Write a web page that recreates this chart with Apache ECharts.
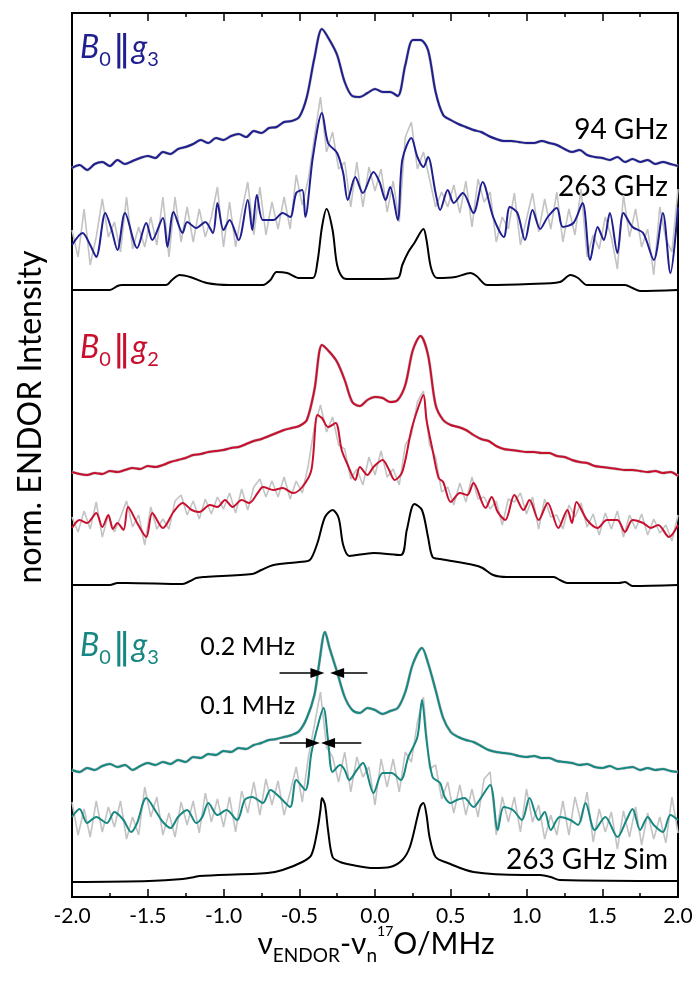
<!DOCTYPE html>
<html>
<head>
<meta charset="utf-8">
<title>17O ENDOR</title>
<script src="https://cdn.jsdelivr.net/npm/echarts@6/dist/echarts.min.js"></script>
<style>
  html, body { margin: 0; padding: 0; background: #fff; }
  #chart { width: 697px; height: 987px; }
</style>
</head>
<body>
<div id="chart"></div>
<script>
// x in MHz, y = stacked normalised intensity (arbitrary units, 0..884)

// 94 GHz traces, sampled every 0.05 MHz from -2.0
const blue94 = [
  729, 732, 727, 733, 735, 731, 737, 733, 736, 739,
  741, 739, 745, 743, 748, 750, 753, 757, 754, 759,
  757, 761, 763, 760, 766, 764, 769, 770, 775, 776,
  780, 800, 839, 868, 857, 842, 815, 801, 800, 804,
  808, 805, 805, 801, 832, 857, 857, 847, 805, 782,
  777, 773, 770, 767, 765, 761, 758, 756, 756, 755,
  754, 754, 756, 754, 752, 748, 745, 747, 742, 740,
  739, 737, 740, 735, 738, 735, 737, 733, 735, 733,
  731
];
const red94 = [
  425, 423, 422, 424, 423, 426, 425, 427, 429, 428,
  431, 430, 432, 435, 437, 439, 442, 443, 445, 446,
  447, 449, 450, 453, 456, 458, 461, 464, 467, 469,
  471, 477, 507, 552, 545, 535, 517, 495, 491, 497,
  500, 499, 495, 497, 512, 547, 561, 542, 492, 477,
  472, 470, 467, 462, 458, 456, 451, 448, 447, 446,
  445, 445, 444, 444, 441, 440, 437, 435, 434, 431,
  430, 429, 428, 427, 427, 426, 425, 426, 424, 425,
  421
];
const teal94 = [
  [-2.00, 127], [-1.95, 125], [-1.90, 129], [-1.85, 127], [-1.80, 131], [-1.75, 133], [-1.70, 130],
  [-1.65, 132], [-1.60, 127], [-1.55, 131], [-1.50, 134], [-1.45, 132], [-1.40, 135], [-1.35, 133],
  [-1.30, 137], [-1.25, 135], [-1.20, 140], [-1.15, 139], [-1.10, 143], [-1.05, 142], [-1.00, 146],
  [-0.95, 145], [-0.90, 149], [-0.85, 148], [-0.80, 152], [-0.75, 154], [-0.70, 157], [-0.65, 158],
  [-0.60, 160], [-0.55, 162], [-0.50, 166], [-0.45, 179], [-0.40, 202], [-0.37, 232], [-0.33, 265],
  [-0.30, 249], [-0.25, 225], [-0.20, 200], [-0.15, 187], [-0.10, 184], [-0.05, 189], [0.00, 187],
  [0.05, 183], [0.10, 186], [0.15, 189], [0.20, 205], [0.25, 233], [0.31, 249], [0.35, 234],
  [0.40, 207], [0.45, 179], [0.50, 165], [0.55, 160], [0.60, 157], [0.65, 155], [0.70, 151],
  [0.75, 147], [0.80, 145], [0.85, 144], [0.90, 143], [0.95, 141], [1.00, 140], [1.05, 141],
  [1.10, 139], [1.15, 139], [1.20, 136], [1.25, 135], [1.30, 134], [1.35, 132], [1.40, 133],
  [1.45, 130], [1.50, 129], [1.55, 131], [1.60, 128], [1.65, 129], [1.70, 130], [1.75, 127],
  [1.80, 129], [1.85, 127], [1.90, 128], [1.95, 126], [2.00, 125]
];

// 263 GHz smoothed traces
const blue263 = [
  [-2.00, 652], [-1.93, 664], [-1.88, 652], [-1.84, 640], [-1.78, 684], [-1.74, 668], [-1.70, 647],
  [-1.65, 684], [-1.57, 649], [-1.51, 674], [-1.47, 657], [-1.40, 679], [-1.37, 650], [-1.33, 685],
  [-1.27, 664], [-1.24, 675], [-1.18, 669], [-1.12, 675], [-1.07, 664], [-1.04, 694], [-1.00, 667],
  [-0.96, 677], [-0.90, 657], [-0.84, 697], [-0.81, 667], [-0.78, 702], [-0.74, 677], [-0.67, 677],
  [-0.61, 684], [-0.56, 680], [-0.52, 704], [-0.48, 707], [-0.46, 680], [-0.41, 740], [-0.35, 784],
  [-0.31, 754], [-0.25, 744], [-0.21, 724], [-0.18, 697], [-0.13, 720], [-0.08, 704], [-0.01, 725],
  [0.03, 715], [0.07, 697], [0.10, 710], [0.15, 677], [0.18, 737], [0.24, 759], [0.28, 740],
  [0.32, 730], [0.35, 740], [0.40, 704], [0.43, 687], [0.48, 707], [0.52, 694], [0.58, 704],
  [0.65, 684], [0.71, 715], [0.78, 680], [0.85, 660], [0.89, 690], [0.94, 684], [0.99, 657],
  [1.04, 687], [1.09, 668], [1.14, 680], [1.20, 689], [1.24, 670], [1.31, 674], [1.37, 694],
  [1.42, 637], [1.47, 670], [1.51, 657], [1.55, 684], [1.60, 644], [1.64, 684], [1.70, 670],
  [1.77, 664], [1.84, 637], [1.90, 684], [1.95, 624], [2.00, 690]
];
const red263 = [
  [-2.00, 369], [-1.95, 377], [-1.90, 374], [-1.84, 384], [-1.80, 370], [-1.76, 382], [-1.73, 368],
  [-1.70, 374], [-1.66, 367], [-1.63, 390], [-1.57, 374], [-1.51, 360], [-1.47, 384], [-1.40, 369],
  [-1.33, 385], [-1.27, 394], [-1.21, 387], [-1.16, 385], [-1.09, 392], [-1.04, 390], [-0.99, 397],
  [-0.94, 390], [-0.88, 397], [-0.83, 394], [-0.77, 405], [-0.74, 410], [-0.67, 407], [-0.61, 409],
  [-0.54, 404], [-0.48, 410], [-0.42, 427], [-0.38, 482], [-0.35, 479], [-0.31, 470], [-0.26, 474],
  [-0.22, 447], [-0.18, 432], [-0.13, 417], [-0.10, 430], [-0.05, 422], [-0.01, 430], [0.05, 437],
  [0.09, 428], [0.13, 417], [0.18, 425], [0.24, 467], [0.28, 487], [0.32, 502], [0.34, 477],
  [0.38, 447], [0.42, 419], [0.45, 415], [0.50, 395], [0.56, 404], [0.61, 402], [0.65, 414],
  [0.73, 389], [0.77, 400], [0.81, 385], [0.86, 377], [0.92, 402], [0.98, 387], [1.02, 397],
  [1.08, 377], [1.14, 394], [1.21, 369], [1.27, 387], [1.30, 374], [1.33, 395], [1.40, 377],
  [1.47, 369], [1.53, 377], [1.60, 377], [1.65, 365], [1.70, 377], [1.77, 374], [1.82, 369],
  [1.87, 372], [1.94, 360], [2.00, 372]
];
const teal263 = [
  [-2.00, 80], [-1.95, 88], [-1.90, 74], [-1.84, 80], [-1.77, 74], [-1.72, 85], [-1.66, 77],
  [-1.61, 65], [-1.57, 74], [-1.51, 99], [-1.44, 84], [-1.40, 75], [-1.35, 69], [-1.30, 80],
  [-1.24, 87], [-1.18, 74], [-1.14, 80], [-1.10, 94], [-1.04, 82], [-0.98, 87], [-0.91, 77],
  [-0.86, 97], [-0.81, 100], [-0.74, 94], [-0.69, 107], [-0.63, 100], [-0.56, 90], [-0.52, 117],
  [-0.46, 107], [-0.42, 144], [-0.38, 170], [-0.34, 189], [-0.31, 157], [-0.28, 125], [-0.23, 132],
  [-0.20, 127], [-0.17, 117], [-0.12, 127], [-0.08, 134], [-0.01, 104], [0.05, 124], [0.11, 124],
  [0.17, 117], [0.22, 140], [0.28, 160], [0.31, 197], [0.34, 157], [0.38, 120], [0.43, 114],
  [0.46, 100], [0.50, 94], [0.54, 97], [0.59, 99], [0.65, 90], [0.69, 97], [0.76, 112],
  [0.81, 67], [0.85, 90], [0.91, 87], [0.97, 77], [1.02, 99], [1.08, 77], [1.12, 85],
  [1.16, 67], [1.22, 80], [1.29, 77], [1.34, 72], [1.39, 94], [1.45, 67], [1.52, 80],
  [1.60, 60], [1.66, 77], [1.70, 88], [1.75, 67], [1.80, 80], [1.84, 72], [1.90, 65],
  [1.95, 82], [2.00, 77]
];

// 263 GHz raw (grey), sampled every 0.04 MHz from -2.0
const blueRaw = [
  667, 640, 688, 632, 660, 698, 660, 675, 645, 700,
  648, 670, 650, 680, 652, 700, 640, 700, 655, 690,
  655, 688, 660, 680, 710, 650, 695, 650, 685, 715,
  662, 710, 662, 695, 668, 700, 668, 722, 692, 718,
  760, 800, 745, 765, 728, 735, 690, 735, 690, 730,
  706, 728, 685, 716, 675, 760, 775, 728, 745, 718,
  690, 705, 690, 712, 684, 716, 670, 718, 695, 705,
  655, 680, 668, 704, 652, 678, 704, 665, 698, 668,
  705, 655, 688, 662, 708, 640, 662, 648, 680, 660,
  628, 702, 660, 688, 650, 668, 622, 690, 658, 645,
  708
];
const redRaw = [
  380, 365, 386, 368, 395, 360, 382, 365, 380, 396,
  370, 382, 352, 390, 368, 378, 368, 396, 402, 382,
  396, 378, 398, 383, 400, 388, 404, 384, 408, 387,
  410, 418, 400, 416, 400, 420, 398, 416, 404, 432,
  470, 492, 465, 480, 452, 448, 418, 428, 412, 440,
  422, 446, 420, 428, 412, 452, 462, 495, 506, 452,
  440, 405, 410, 392, 414, 395, 420, 398, 400, 388,
  396, 372, 398, 395, 404, 383, 400, 368, 398, 380,
  382, 368, 392, 380, 394, 370, 383, 362, 384, 368,
  386, 360, 382, 368, 383, 362, 378, 364, 372, 356,
  382
];
const tealRaw = [
  95, 62, 88, 60, 96, 65, 90, 70, 96, 58,
  80, 62, 110, 80, 100, 62, 84, 60, 95, 72,
  96, 64, 104, 75, 98, 70, 100, 65, 106, 84,
  115, 82, 118, 92, 116, 82, 105, 130, 95, 140,
  172, 205, 150, 140, 115, 145, 105, 140, 120, 130,
  92, 138, 110, 138, 105, 145, 135, 175, 200, 128,
  132, 98, 115, 84, 112, 82, 108, 80, 118, 125,
  62, 100, 75, 100, 65, 108, 75, 92, 58, 82,
  62, 96, 62, 100, 75, 105, 55, 88, 65, 85,
  48, 86, 60, 90, 52, 84, 58, 80, 54, 100,
  64
];

// 263 GHz simulations
const sim1 = [
  [-2.00, 607], [-1.75, 607], [-1.70, 611], [-1.67, 612], [-1.38, 612], [-1.34, 617], [-1.29, 622],
  [-1.22, 620], [-1.11, 614], [-0.96, 612], [-0.74, 612], [-0.69, 617], [-0.65, 625], [-0.58, 624],
  [-0.50, 619], [-0.41, 619], [-0.38, 635], [-0.35, 670], [-0.32, 688], [-0.28, 667], [-0.25, 632],
  [-0.21, 619], [-0.17, 618], [0.00, 618], [0.15, 619], [0.18, 632], [0.22, 645], [0.26, 654],
  [0.32, 668], [0.34, 657], [0.37, 629], [0.41, 619], [0.53, 620], [0.63, 624], [0.67, 621],
  [0.74, 612], [1.02, 613], [1.22, 615], [1.29, 622], [1.34, 619], [1.40, 612], [1.65, 612],
  [1.70, 609], [1.75, 606], [2.00, 607]
];
const sim2 = [
  [-2.00, 312], [-1.75, 312], [-1.70, 314], [-1.64, 314], [-1.27, 313], [-1.22, 316], [-1.18, 319],
  [-1.12, 320], [-0.81, 323], [-0.75, 327], [-0.67, 332], [-0.50, 335], [-0.43, 337], [-0.38, 354],
  [-0.33, 380], [-0.28, 387], [-0.24, 379], [-0.21, 352], [-0.17, 341], [-0.01, 344], [0.17, 342],
  [0.21, 367], [0.26, 393], [0.31, 387], [0.35, 360], [0.38, 340], [0.43, 338], [0.65, 332],
  [0.71, 329], [0.78, 322], [0.87, 320], [1.12, 320], [1.18, 320], [1.22, 317], [1.27, 314],
  [1.61, 314], [1.65, 315], [1.70, 311], [2.00, 312]
];
const sim3 = [
  [-2.00, 15], [-1.49, 16], [-1.27, 18], [-1.19, 20], [-1.16, 21], [-0.71, 24], [-0.61, 27],
  [-0.48, 35], [-0.42, 42], [-0.38, 67], [-0.36, 87], [-0.35, 99], [-0.33, 92], [-0.31, 67],
  [-0.28, 40], [-0.23, 35], [-0.15, 32], [-0.01, 29], [0.10, 30], [0.18, 37], [0.23, 50],
  [0.28, 80], [0.30, 91], [0.32, 94], [0.34, 82], [0.36, 60], [0.40, 40], [0.48, 34],
  [0.65, 25], [0.98, 22], [1.09, 22], [1.16, 20], [1.22, 17], [2.00, 16]
];

// linewidth arrows: [from MHz, to MHz, height]
const widthArrows = [
  [-0.63, -0.38, 224], [-0.05, -0.25, 224],
  [-0.63, -0.41, 154], [-0.09, -0.31, 154]
];
const widthLabels = ["0.2 MHz", "0.1 MHz"];
const freqLabels = ["94 GHz", "263 GHz", "263 GHz Sim"];
const panelLabels = [
  { sub: "3", color: "#1f1f8f" },
  { sub: "2", color: "#c8102e" },
  { sub: "3", color: "#178781" }
];

(function () {
  "use strict";

  const chart = echarts.init(document.getElementById("chart"), null, { renderer: "canvas" });
  const navy = panelLabels[0].color;
  const crimson = panelLabels[1].color;
  const teal = panelLabels[2].color;
  const grey = "#c3c3c3";
  const font = "Lato";

  function onGrid(values, start, step) {
    return values.map((v, i) => [+(start + i * step).toFixed(3), v]);
  }

  function trace(data, color, width, extra) {
    return Object.assign({
      type: "line",
      data: data,
      symbol: "none",
      showSymbol: false,
      smooth: 0.3,
      silent: true,
      lineStyle: { color: color, width: width },
      emphasis: { disabled: true }
    }, extra || {});
  }

  const series = [
    trace(onGrid(blue94, -2, 0.05), grey, 3),
    trace(onGrid(blueRaw, -2, 0.04), grey, 1.6, { smooth: 0 }),
    trace(onGrid(blue94, -2, 0.05), navy, 2),
    trace(blue263, navy, 2),
    trace(sim1, "#000", 2),

    trace(onGrid(red94, -2, 0.05), grey, 3),
    trace(onGrid(redRaw, -2, 0.04), grey, 1.6, { smooth: 0 }),
    trace(onGrid(red94, -2, 0.05), crimson, 2),
    trace(red263, crimson, 2),
    trace(sim2, "#000", 2),

    trace(teal94, grey, 3),
    trace(onGrid(tealRaw, -2, 0.04), grey, 1.6, { smooth: 0 }),
    trace(teal94, teal, 2),
    trace(teal263, teal, 2),
    trace(sim3, "#000", 2, {
      markLine: {
        silent: true,
        symbol: ["none", "triangle"],
        symbolSize: [10, 14],
        label: { show: false },
        emphasis: { disabled: true },
        lineStyle: { color: "#000", width: 1.5, type: "solid" },
        data: widthArrows.map((a) => [{ coord: [a[0], a[2]] }, { coord: [a[1], a[2]] }])
      }
    })
  ];

  function xAxis(position, labels) {
    return {
      type: "value",
      position: position,
      min: -2,
      max: 2,
      interval: 0.5,
      axisLine: { show: false },
      splitLine: { show: false },
      axisTick: { show: true, inside: true, length: 8, lineStyle: { color: "#000", width: 1.5 } },
      minorTick: { show: true, splitNumber: 2, length: 4, lineStyle: { color: "#000", width: 1.5 } },
      axisLabel: {
        show: labels,
        margin: 9,
        fontFamily: font,
        fontSize: 21,
        color: "#000",
        formatter: (v) => v.toFixed(1)
      }
    };
  }

  function panelLabel(p, y) {
    return {
      type: "text",
      x: 80,
      y: y,
      style: {
        text: "{i|B}{s|0}{d|\u2016}{i|g}{s|" + p.sub + "}",
        fill: p.color,
        align: "left",
        verticalAlign: "middle",
        rich: {
          i: { fontFamily: font, fontSize: 32, fontStyle: "italic", padding: [0, 0, 6, 0], verticalAlign: "bottom" },
          s: { fontFamily: font, fontSize: 20, verticalAlign: "bottom" },
          d: { fontFamily: "DejaVu Sans", fontSize: 36, padding: [0, 1, 1, 2], verticalAlign: "bottom" }
        }
      }
    };
  }

  function plainText(text, x, y, size, align) {
    return {
      type: "text",
      x: x,
      y: y,
      style: { text: text, fill: "#000", fontFamily: font, fontSize: size, align: align, verticalAlign: "middle" }
    };
  }

  const graphic = [
    panelLabel(panelLabels[0], 51),
    panelLabel(panelLabels[1], 351),
    panelLabel(panelLabels[2], 649),
    plainText(freqLabels[0], 668, 130, 28, "right"),
    plainText(freqLabels[1], 668, 187, 28, "right"),
    plainText(freqLabels[2], 668, 860, 28, "right"),
    plainText(widthLabels[0], 295, 647, 25, "right"),
    plainText(widthLabels[1], 295, 706, 25, "right"),
    {
      type: "text",
      x: 31,
      y: 417,
      rotation: Math.PI / 2,
      style: { text: "norm. ENDOR Intensity", fill: "#000", fontFamily: font, fontSize: 32, align: "center", verticalAlign: "middle" }
    },
    {
      type: "text",
      x: 376,
      y: 945,
      style: {
        text: "{b|\u03bd}{s|ENDOR}{b|-\u03bd}{s|n}{p|17}{b|O/MHz}",
        fill: "#000",
        align: "center",
        verticalAlign: "middle",
        rich: {
          b: { fontFamily: font, fontSize: 30, padding: [0, 0, 6, 0], verticalAlign: "bottom" },
          s: { fontFamily: font, fontSize: 19, verticalAlign: "bottom" },
          p: { fontFamily: font, fontSize: 14, padding: [0, 0, 27, 0], verticalAlign: "bottom" }
        }
      }
    }
  ];

  chart.setOption({
    animation: false,
    grid: { left: 72, right: 19, top: 13, bottom: 90, show: true, borderColor: "#000", borderWidth: 2 },
    xAxis: [xAxis("bottom", true), xAxis("top", false)],
    yAxis: { type: "value", min: 0, max: 884, show: false },
    series: series,
    graphic: graphic
  });

  window.addEventListener("resize", () => chart.resize());
})();
</script>
</body>
</html>
